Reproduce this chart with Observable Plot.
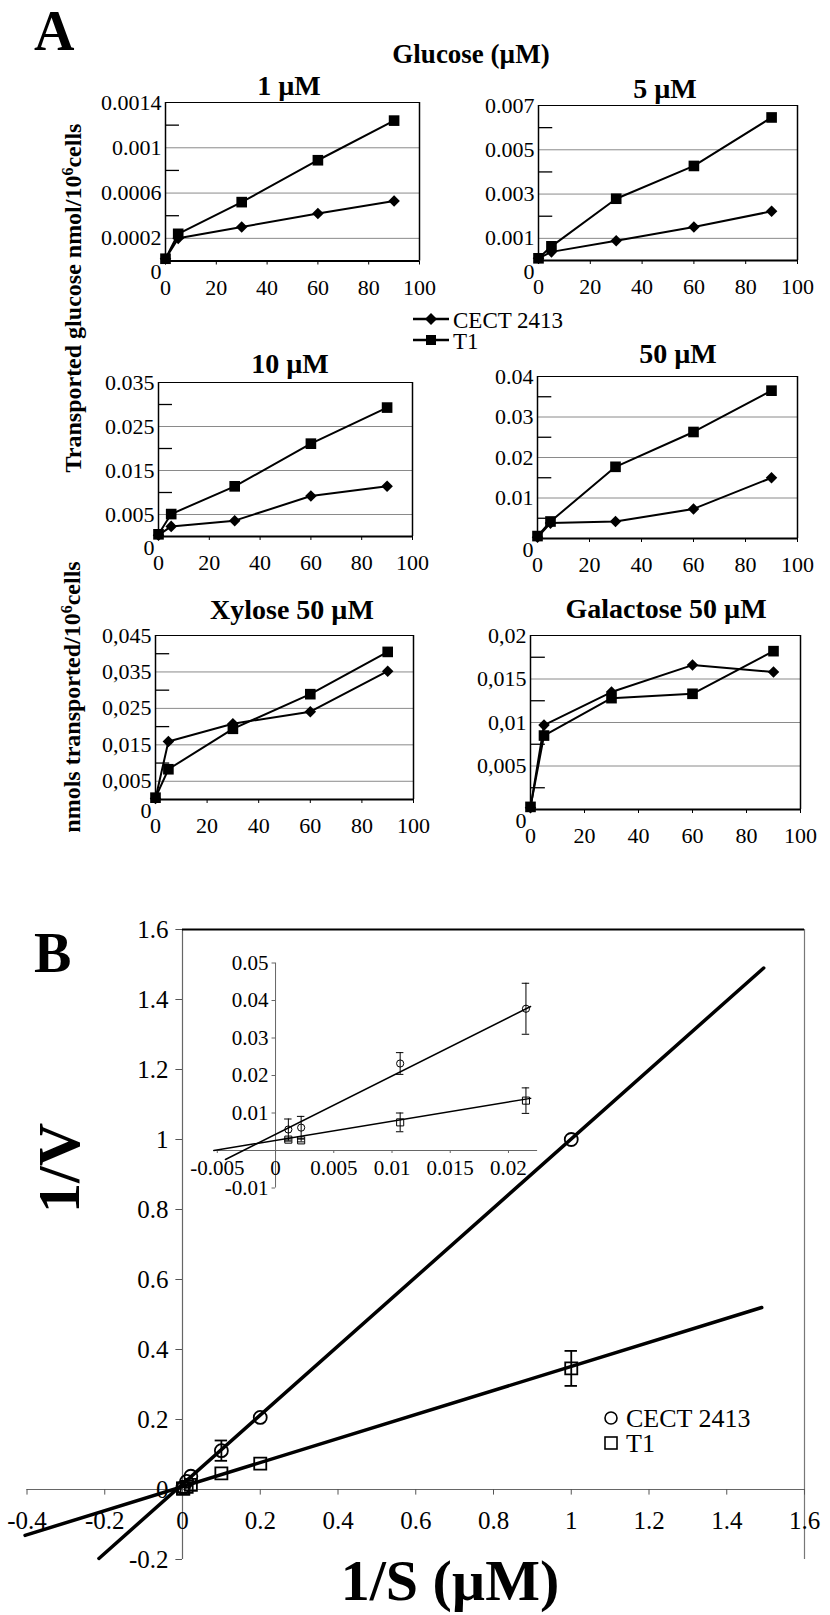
<!DOCTYPE html>
<html><head><meta charset="utf-8">
<script src="https://cdn.jsdelivr.net/npm/d3@7"></script>
<script src="https://cdn.jsdelivr.net/npm/@observablehq/plot@0.6"></script>
<style>
html,body{margin:0;padding:0;background:#fff;}
#fig{position:relative;width:830px;height:1615px;overflow:hidden;background:#fff;font-family:"Liberation Serif","Times New Roman",serif;}
</style></head>
<body><div id="fig"></div>
<script>
// ---------- DATA (panel A: time courses, minutes) ----------
const time = [0, 5, 30, 60, 90];
const glc1_cect  = [0.00002, 0.0002, 0.0003, 0.00042, 0.00053];
const glc1_t1    = [0.00002, 0.00024, 0.00052, 0.00089, 0.00124];
const glc5_cect  = [0.0001, 0.00039, 0.00089, 0.00151, 0.00222];
const glc5_t1    = [0.0001, 0.00064, 0.00279, 0.00427, 0.00646];
const glc10_cect = [0.0003, 0.0023, 0.0036, 0.0092, 0.0114];
const glc10_t1   = [0.0005, 0.0051, 0.0114, 0.0211, 0.0293];
const glc50_cect = [0.0003, 0.0038, 0.0042, 0.0073, 0.015];
const glc50_t1   = [0.0006, 0.0042, 0.0177, 0.0263, 0.0365];
const xyl_cect   = [0.0003, 0.0159, 0.0208, 0.0241, 0.0352];
const xyl_t1     = [0.0005, 0.0083, 0.0194, 0.0289, 0.0405];
const gal_cect   = [0.0002, 0.0097, 0.0135, 0.0166, 0.0158];
const gal_t1     = [0.0003, 0.0085, 0.0128, 0.0133, 0.0182];

// tick labels, panel A
const xTicksA = [0, 20, 40, 60, 80, 100];
const yLab1 = [0.0002, 0.0006, 0.001, 0.0014], yMin1 = [0.0004, 0.0008, 0.0012];
const yLab5 = [0.001, 0.003, 0.005, 0.007], yMin5 = [0.002, 0.004, 0.006];
const yLab10 = [0.005, 0.015, 0.025, 0.035], yMin10 = [0.01, 0.02, 0.03];
const yLab50 = [0.01, 0.02, 0.03, 0.04], yMin50 = [0.005, 0.015, 0.025, 0.035];
const yLabX = [0.005, 0.015, 0.025, 0.035, 0.045], yMinX = [0.01, 0.02, 0.03, 0.04];
const yLabG = [0.005, 0.01, 0.015, 0.02], yMinG = [0.0025, 0.0075, 0.0125, 0.0175];

// ---------- DATA (panel B: Lineweaver-Burk) ----------
const invS      = [0.0011, 0.0022, 0.0107, 0.0215, 0.1, 0.2, 1];
const cectInvV  = [0.0056, 0.0061, 0.0232, 0.0378, 0.111, 0.206, 1.0];
const cectErr   = [0.0028, 0.003, 0.0029, 0.0068, 0.029, 0, 0];
const t1InvV    = [0.0029, 0.0027, 0.0075, 0.0133, 0.046, 0.074, 0.346];
const t1Err     = [0.0004, 0.0004, 0.0025, 0.0034, 0, 0, 0.05];
const cectFitX  = [-0.215, 1.495], cectFitY = [-0.197, 1.49];
const t1FitX    = [-0.405, 1.49],  t1FitY   = [-0.131, 0.52];
const insetCectFitX = [-0.0043, 0.0219], insetCectFitY = [-0.0024, 0.0384];
const insetT1FitX   = [-0.0053, 0.0219], insetT1FitY   = [0.0, 0.0139];
const bXTicks = [-0.4, -0.2, 0, 0.2, 0.4, 0.6, 0.8, 1, 1.2, 1.4, 1.6];
const bYTicks = [-0.2, 0, 0.2, 0.4, 0.6, 0.8, 1, 1.2, 1.4, 1.6];
const inXTicks = [-0.005, 0, 0.005, 0.01, 0.015, 0.02];
const inYTicks = [-0.01, 0.01, 0.02, 0.03, 0.04, 0.05];

const fig = document.getElementById("fig");
const FONT = "Liberation Serif, Times New Roman, serif";
const baseStyle = {background: "transparent", overflow: "visible", fontFamily: FONT, color: "black", fontSize: "22px"};
function place(svg, left, top) {
  svg.style.position = "absolute";
  svg.style.left = left + "px";
  svg.style.top = top + "px";
  svg.style.maxWidth = "none";
  fig.appendChild(svg);
}

// ---------- Panel A small multiples ----------
const panels = [
  {cect: glc1_cect, t1: glc1_t1, ymax: 0.0014, lab: yLab1, minor: yMin1, grid: yLab1.slice(0, -1), comma: false, frame: [165, 101.5, 419, 260]},
  {cect: glc5_cect, t1: glc5_t1, ymax: 0.007, lab: yLab5, minor: yMin5, grid: yLab5.slice(0, -1), comma: false, frame: [538, 105, 797, 260]},
  {cect: glc10_cect, t1: glc10_t1, ymax: 0.035, lab: yLab10, minor: yMin10, grid: yLab10.slice(0, -1), comma: false, frame: [158, 382, 412, 536]},
  {cect: glc50_cect, t1: glc50_t1, ymax: 0.04, lab: yLab50, minor: yMin50, grid: yLab50.slice(0, -1), comma: false, frame: [537, 376, 797, 538]},
  {cect: xyl_cect, t1: xyl_t1, ymax: 0.045, lab: yLabX, minor: yMinX, grid: yLabX.slice(0, -1), comma: true, frame: [155, 635, 413, 799]},
  {cect: gal_cect, t1: gal_t1, ymax: 0.02, lab: yLabG, minor: yMinG, grid: yLabG.slice(0, -1), comma: true, frame: [530, 635, 800, 809]}
];

for (const p of panels) {
  const [fl, ft, fr, fb] = p.frame;
  const mL = 85, mR = 30, mT = 12, mB = 50;
  const fmt = d => p.comma ? String(d).replace(".", ",") : String(d);
  const rows = arr => time.map((t, i) => ({t, v: arr[i]}));
  const svg = Plot.plot({
    width: mL + (fr - fl) + mR, height: mT + (fb - ft) + mB,
    marginLeft: mL, marginRight: mR, marginTop: mT, marginBottom: mB,
    x: {domain: [0, 100]}, y: {domain: [0, p.ymax]},
    style: baseStyle,
    marks: [
      Plot.ruleY(p.grid, {stroke: "#8a8a8a", strokeWidth: 1}),
      Plot.ruleY(p.minor, {x1: 0, x2: 5.5, stroke: "black", strokeWidth: 1.3}),
      Plot.ruleY([p.ymax], {stroke: "black", strokeWidth: 1.1}),
      Plot.ruleX([0, 100], {stroke: "black", strokeWidth: 1.5}),
      Plot.ruleY([0], {stroke: "black", strokeWidth: 2}),
      Plot.axisX(xTicksA, {anchor: "bottom", tickSize: 4, tickPadding: 14, label: null, tickFormat: d => String(d), fontSize: 22}),
      Plot.axisY(p.lab, {anchor: "left", tickSize: 0, tickPadding: 4, label: null, tickFormat: fmt, fontSize: 22}),
      Plot.text([0], {x: 0, y: 0, text: d => String(d), dx: -4, dy: 11, textAnchor: "end", fontSize: 22}),
      Plot.line(rows(p.cect), {x: "t", y: "v", stroke: "black", strokeWidth: 2}),
      Plot.line(rows(p.t1), {x: "t", y: "v", stroke: "black", strokeWidth: 2}),
      Plot.dot(rows(p.cect), {x: "t", y: "v", symbol: "diamond2", r: 5.2, fill: "black", stroke: "none"}),
      Plot.dot(rows(p.t1), {x: "t", y: "v", symbol: "square", r: 6, fill: "black", stroke: "none"})
    ]
  });
  place(svg, fl - mL, ft - mT);
}

// ---------- Panel B main ----------
const bRows = (ys, es) => invS.map((x, i) => ({x, y: ys[i], e: es[i]}));
const cectB = bRows(cectInvV, cectErr), t1B = bRows(t1InvV, t1Err);
const fitRows = (xs, ys) => xs.map((x, i) => ({x, y: ys[i]}));
const capB = 0.016;
const bigErr = d => d.e > 0.02;
const bSvg = Plot.plot({
  width: 830, height: 735,
  marginLeft: 26.5, marginRight: 26, marginTop: 49, marginBottom: 56,
  x: {domain: [-0.4, 1.6], axis: null}, y: {domain: [-0.2, 1.6], axis: null},
  style: baseStyle,
  marks: [
    Plot.ruleX([0], {y1: -0.2, y2: 1.6, stroke: "#666", strokeWidth: 1.2}),
    Plot.ruleY([0], {x1: -0.4, x2: 1.6, stroke: "#666", strokeWidth: 1.2}),
    Plot.ruleX([1.6], {y1: -0.2, y2: 1.6, stroke: "#777", strokeWidth: 1.2}),
    Plot.ruleY([1.6], {x1: 0, x2: 1.6, stroke: "black", strokeWidth: 2}),
    Plot.ruleY(bYTicks, {x1: -0.017, x2: 0, stroke: "#555", strokeWidth: 1}),
    Plot.ruleX(bXTicks, {y1: 0, y2: -0.016, stroke: "#555", strokeWidth: 1}),
    Plot.text(bYTicks, {x: 0, y: d => d, text: d => String(d), dx: -14, textAnchor: "end", fontSize: 25}),
    Plot.text(bXTicks, {x: d => d, y: 0, text: d => String(d), dy: 31, fontSize: 25}),
    Plot.line(fitRows(cectFitX, cectFitY), {x: "x", y: "y", stroke: "black", strokeWidth: 3.5}),
    Plot.line(fitRows(t1FitX, t1FitY), {x: "x", y: "y", stroke: "black", strokeWidth: 3.5}),
    Plot.ruleX(cectB.filter(bigErr), {x: "x", y1: d => d.y - d.e, y2: d => d.y + d.e, stroke: "black", strokeWidth: 1.8}),
    Plot.ruleX(t1B.filter(bigErr), {x: "x", y1: d => d.y - d.e, y2: d => d.y + d.e, stroke: "black", strokeWidth: 1.8}),
    Plot.ruleY([...cectB, ...t1B].filter(bigErr), {y: d => d.y + d.e, x1: d => d.x - capB, x2: d => d.x + capB, stroke: "black", strokeWidth: 1.8}),
    Plot.ruleY([...cectB, ...t1B].filter(bigErr), {y: d => d.y - d.e, x1: d => d.x - capB, x2: d => d.x + capB, stroke: "black", strokeWidth: 1.8}),
    Plot.dot(cectB, {x: "x", y: "y", symbol: "circle", r: 6.5, fill: "none", stroke: "black", strokeWidth: 1.8}),
    Plot.dot(t1B, {x: "x", y: "y", symbol: "square", r: 6.8, fill: "none", stroke: "black", strokeWidth: 1.8})
  ]
});
place(bSvg, 0, 880);

// ---------- Panel B inset ----------
const inRows = (ys, es) => invS.slice(0, 4).map((x, i) => ({x, y: ys[i], e: es[i]}));
const cectI = inRows(cectInvV, cectErr), t1I = inRows(t1InvV, t1Err);
const capI = 0.00032;
const inSvg = Plot.plot({
  width: 420, height: 280,
  marginLeft: 63.3, marginRight: 32.9, marginTop: 32.5, marginBottom: 22.5,
  x: {domain: [-0.0053, 0.0225], axis: null}, y: {domain: [-0.01, 0.05], axis: null},
  style: baseStyle,
  marks: [
    Plot.ruleX([0], {y1: -0.01, y2: 0.05, stroke: "#666", strokeWidth: 1}),
    Plot.ruleY([0], {x1: -0.0053, x2: 0.0225, stroke: "#666", strokeWidth: 1}),
    Plot.ruleY(inYTicks, {x1: -0.0003, x2: 0, stroke: "#666", strokeWidth: 1}),
    Plot.ruleX(inXTicks, {y1: 0, y2: -0.0008, stroke: "#666", strokeWidth: 1}),
    Plot.text(inYTicks, {x: 0, y: d => d, text: d => String(d), dx: -7, textAnchor: "end", fontSize: 21}),
    Plot.text(inXTicks, {x: d => d, y: 0, text: d => String(d), dy: 18, fontSize: 21}),
    Plot.line(fitRows(insetCectFitX, insetCectFitY), {x: "x", y: "y", stroke: "black", strokeWidth: 1.5}),
    Plot.line(fitRows(insetT1FitX, insetT1FitY), {x: "x", y: "y", stroke: "black", strokeWidth: 1.5}),
    Plot.ruleX([...cectI, ...t1I], {x: "x", y1: d => d.y - d.e, y2: d => d.y + d.e, stroke: "black", strokeWidth: 1}),
    Plot.ruleY([...cectI, ...t1I], {y: d => d.y + d.e, x1: d => d.x - capI, x2: d => d.x + capI, stroke: "black", strokeWidth: 1}),
    Plot.ruleY([...cectI, ...t1I], {y: d => d.y - d.e, x1: d => d.x - capI, x2: d => d.x + capI, stroke: "black", strokeWidth: 1}),
    Plot.dot(cectI, {x: "x", y: "y", symbol: "circle", r: 3.6, fill: "none", stroke: "black", strokeWidth: 1}),
    Plot.dot(t1I, {x: "x", y: "y", symbol: "square", r: 4, fill: "none", stroke: "black", strokeWidth: 1})
  ]
});
place(inSvg, 150, 930);

// ---------- Text overlay: panel letters, titles, axis titles, legends ----------
const NS = "http://www.w3.org/2000/svg";
const ov = document.createElementNS(NS, "svg");
ov.setAttribute("width", 830);
ov.setAttribute("height", 1615);
ov.style.cssText = "position:absolute;left:0;top:0;overflow:visible;pointer-events:none;font-family:'Liberation Serif','Times New Roman',serif;";
const diamond = (cx, cy, s) => `<polygon points="${cx},${cy - s} ${cx + s},${cy} ${cx},${cy + s} ${cx - s},${cy}" fill="black"/>`;
ov.innerHTML = `
<text x="34" y="50" font-size="56" font-weight="bold">A</text>
<text x="471" y="63" font-size="27" font-weight="bold" text-anchor="middle">Glucose (µM)</text>
<text x="289" y="95" font-size="28" font-weight="bold" text-anchor="middle">1 µM</text>
<text x="665" y="98" font-size="28" font-weight="bold" text-anchor="middle">5 µM</text>
<text x="290" y="373" font-size="28" font-weight="bold" text-anchor="middle">10 µM</text>
<text x="678" y="363" font-size="28" font-weight="bold" text-anchor="middle">50 µM</text>
<text x="292" y="619" font-size="28" font-weight="bold" text-anchor="middle">Xylose 50 µM</text>
<text x="666" y="618" font-size="28" font-weight="bold" text-anchor="middle">Galactose 50 µM</text>
<text transform="translate(81,298) rotate(-90)" font-size="24" font-weight="bold" text-anchor="middle">Transported glucose nmol/10<tspan font-size="16" dy="-8">6</tspan><tspan dy="8">cells</tspan></text>
<text transform="translate(80,697) rotate(-90)" font-size="24" font-weight="bold" text-anchor="middle">nmols transported/10<tspan font-size="16" dy="-8">6</tspan><tspan dy="8">cells</tspan></text>
<line x1="413" y1="319" x2="449" y2="319" stroke="black" stroke-width="2.5"/>
${diamond(431, 319, 6)}
<text x="453" y="328" font-size="23">CECT 2413</text>
<line x1="413" y1="340" x2="449" y2="340" stroke="black" stroke-width="2.5"/>
<rect x="426" y="335" width="10" height="10" fill="black"/>
<text x="453" y="349" font-size="23">T1</text>
<text x="34" y="972" font-size="56" font-weight="bold">B</text>
<text transform="translate(79,1168) rotate(-90)" font-size="60" font-weight="bold" text-anchor="middle">1/V</text>
<text x="450" y="1600" font-size="58" font-weight="bold" text-anchor="middle">1/S (µM)</text>
<circle cx="611" cy="1418" r="6" fill="none" stroke="black" stroke-width="1.6"/>
<text x="626" y="1427" font-size="26">CECT 2413</text>
<rect x="605" y="1437" width="12" height="12" fill="none" stroke="black" stroke-width="1.6"/>
<text x="626" y="1452" font-size="26">T1</text>
`;
fig.appendChild(ov);
</script>
</body></html>
